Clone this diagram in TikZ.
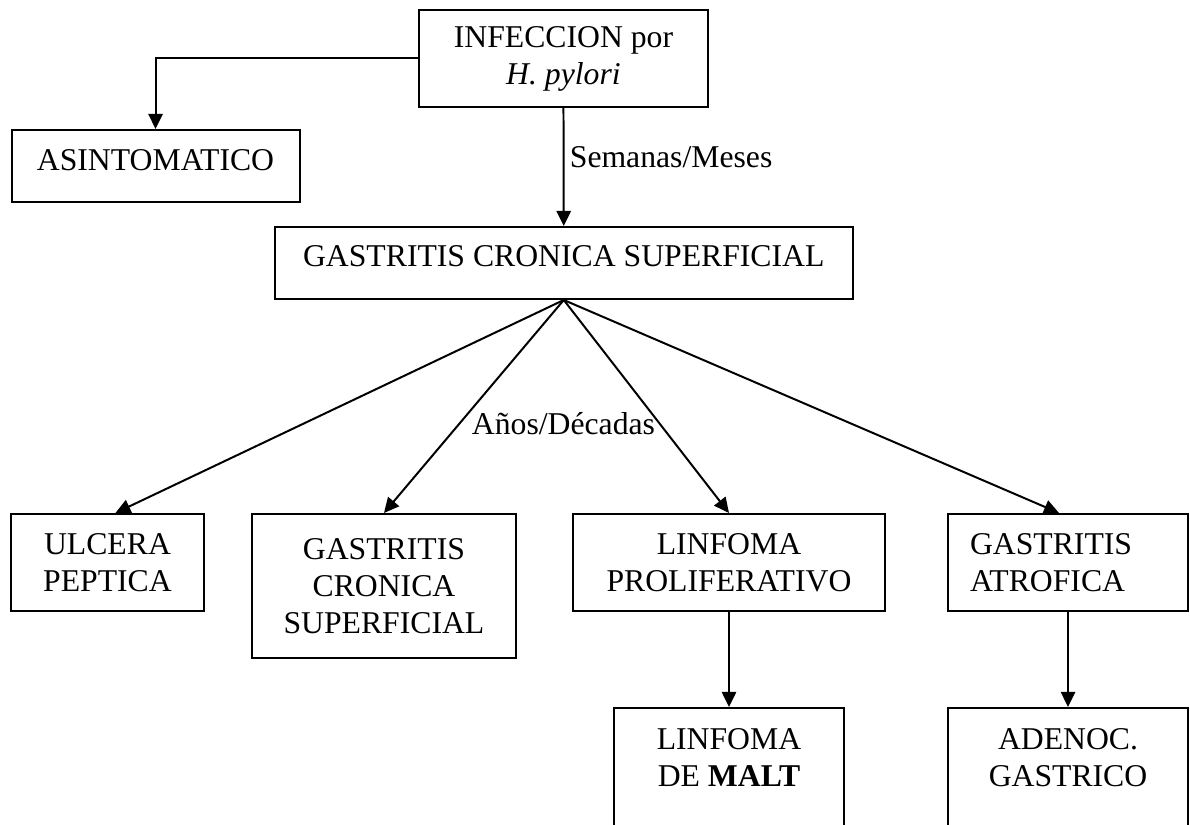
\documentclass[tikz,border=0pt]{standalone}
\usepackage{fontspec}
\setmainfont{Liberation Serif}
\usetikzlibrary{arrows.meta}
\usetikzlibrary{positioning}

\begin{document}
\begin{tikzpicture}[
  caja/.style={draw,line width=0.75pt,align=center,inner sep=0pt,font=\fontsize{12}{14}\selectfont},
  flecha/.style={line width=0.75pt,-{Triangle[length=5.7pt,width=5.4pt]}},
  etiqueta/.style={font=\fontsize{12}{14}\selectfont,inner sep=2pt}]
\useasboundingbox (0,0) rectangle (15.831,10.975);
\clip (0,0) rectangle (15.831,10.975);
\fill[white] (0,0) rectangle (15.831,10.975);

% primer nivel
\node[caja,minimum width=3.845cm,minimum height=1.290cm] (infeccion) at (7.496,10.197) {INFECCION por\\\textit{H. pylori}};
\node[caja,minimum width=3.831cm,minimum height=0.958cm,text height=7.94pt,text depth=4.16pt] (asinto) at (2.069,8.767) {ASINTOMATICO};
\node[caja,minimum width=7.683cm,minimum height=0.958cm,text height=7.94pt,text depth=5.3pt] (gcs) at (7.500,7.476) {GASTRITIS CRONICA SUPERFICIAL};

% segundo nivel
\node[caja,minimum width=2.567cm,minimum height=1.290cm] (ulcera) at (1.430,3.492) {ULCERA\\PEPTICA};
\node[caja,minimum width=3.512cm,minimum height=1.916cm] (gcsdos) at (5.108,3.179) {GASTRITIS\\CRONICA\\SUPERFICIAL};
\node[caja,minimum width=4.157cm,minimum height=1.290cm] (linfoma) at (9.698,3.492) {LINFOMA\\PROLIFERATIVO};
\node[caja,minimum width=3.193cm,minimum height=1.290cm,align=left,text width=2.607cm,inner xsep=0.293cm] (atrofica) at (14.208,3.492) {GASTRITIS\\ATROFICA};

% tercer nivel
\node[caja,minimum width=3.066cm,minimum height=2.307cm,below=1.264cm of linfoma] (malt) {LINFOMA\\DE \textbf{MALT}\\\mbox{}\\\mbox{}};
\node[caja,minimum width=3.193cm,minimum height=2.307cm,below=1.264cm of atrofica] (adenoc) {ADENOC.\\GASTRICO\\\mbox{}\\\mbox{}};

\node[etiqueta] (anos) at (7.496,5.335) {Años/Décadas};

\draw[flecha] (infeccion.west) -| (asinto.north);
\draw[flecha] (infeccion.south) -- node[etiqueta,right,pos=0.42] (semanas) {Semanas/Meses} (gcs.north);
\draw[flecha] (gcs.south) -- ([xshift=3pt]ulcera.north);
\draw[flecha] (gcs.south) -- (gcsdos.north);
\draw[flecha] (gcs.south) -- (linfoma.north);
\draw[flecha] (gcs.south) -- ([xshift=-3.4pt]atrofica.north);
\draw[flecha] (linfoma.south) -- (malt.north);
\draw[flecha] (atrofica.south) -- (adenoc.north);

\end{tikzpicture}
\end{document}
